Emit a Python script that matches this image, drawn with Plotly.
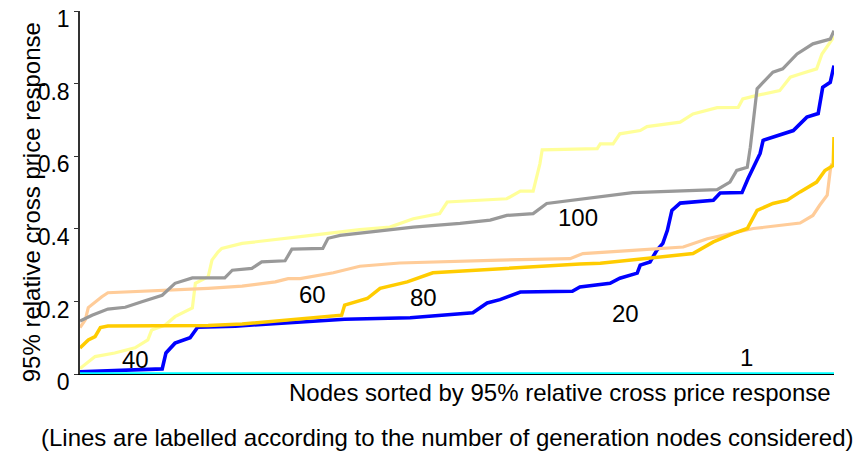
import plotly.graph_objects as go

# Node position (percent of sorted nodes) and 95% relative cross price response
x_1 = [0, 100]
y_1 = [0, 0]

x_20 = [0, 10.9, 11.4, 12.6, 14.6, 15.6, 20.6, 29.8, 35.1, 43.8, 52.1, 54.0, 55.7, 58.4, 65.3, 66.3,
        70.3, 71.6, 73.9, 74.3, 75.6, 76.5, 77.3, 77.9, 78.5, 79.6, 84.0, 84.9, 87.8, 88.6, 89.1,
        90.2, 90.6, 92.4, 94.6, 96.4, 97.9, 98.5, 99.5, 100]
y_20 = [0.006, 0.014, 0.058, 0.085, 0.10, 0.129, 0.132, 0.144, 0.151, 0.155, 0.169, 0.196, 0.205,
        0.226, 0.228, 0.24, 0.25, 0.264, 0.278, 0.30, 0.309, 0.341, 0.36, 0.396, 0.451, 0.471,
        0.479, 0.499, 0.50, 0.539, 0.561, 0.608, 0.644, 0.657, 0.671, 0.708, 0.718, 0.79, 0.804, 0.85]

x_40 = [0, 2.0, 4.6, 7.3, 9.0, 9.5, 11.3, 12.6, 14.9, 15.3, 17.0, 17.5, 18.3, 18.8, 21.5, 25.9,
        29.8, 37.1, 41.1, 44.2, 47.7, 48.7, 56.6, 58.4, 60.1, 61.0, 61.3, 68.6, 69.0, 70.7, 71.6,
        74.3, 75.2, 79.6, 81.3, 84.5, 87.3, 87.9, 89.8, 92.8, 94.2, 95.5, 97.7, 98.4, 100]
y_40 = [0.015, 0.048, 0.058, 0.072, 0.094, 0.121, 0.135, 0.158, 0.182, 0.25, 0.268, 0.314, 0.336,
        0.346, 0.36, 0.37, 0.38, 0.398, 0.405, 0.428, 0.442, 0.474, 0.483, 0.504, 0.504, 0.58,
        0.618, 0.621, 0.634, 0.634, 0.662, 0.671, 0.682, 0.694, 0.717, 0.734, 0.735, 0.758,
        0.768, 0.781, 0.818, 0.827, 0.841, 0.882, 0.93]

x_60 = [0, 0.7, 1.1, 2.0, 2.9, 3.7, 8.2, 12.6, 17.0, 21.5, 25.9, 27.6, 29.2, 33.6, 37.1, 42.4,
        51.3, 55.7, 65.0, 66.7, 73.3, 80.0, 83.2, 89.3, 95.5, 97.2, 98.1, 99.1, 99.5, 99.7]
y_60 = [0.128, 0.149, 0.183, 0.199, 0.213, 0.224, 0.228, 0.231, 0.236, 0.242, 0.254, 0.263, 0.263,
        0.279, 0.297, 0.306, 0.312, 0.314, 0.318, 0.332, 0.341, 0.35, 0.373, 0.401, 0.416, 0.437,
        0.465, 0.493, 0.561, 0.58]

x_80 = [0, 1.1, 2.0, 2.7, 3.7, 17.0, 21.5, 27.2, 29.8, 34.7, 35.1, 38.1, 39.8, 43.4, 46.8, 55.7,
        66.3, 69.0, 75.2, 81.3, 84.0, 86.6, 88.5, 89.8, 91.9, 93.8, 95.5, 97.7, 98.8, 99.9, 100]
y_80 = [0.072, 0.094, 0.103, 0.128, 0.132, 0.134, 0.138, 0.149, 0.153, 0.162, 0.19, 0.208, 0.236,
        0.254, 0.279, 0.291, 0.303, 0.305, 0.318, 0.332, 0.364, 0.387, 0.401, 0.451, 0.47, 0.479,
        0.502, 0.529, 0.561, 0.575, 0.653]

x_100 = [0, 1.6, 3.7, 6.0, 8.2, 10.9, 12.6, 14.9, 19.2, 20.2, 22.8, 24.1, 27.2, 28.1, 32.2, 32.9,
         34.5, 40.2, 44.2, 50.4, 54.4, 56.6, 60.1, 61.9, 73.3, 84.5, 86.2, 87.1, 88.5, 88.9, 89.3,
         89.8, 90.6, 91.9, 93.2, 95.1, 97.2, 99.5, 100]
y_100 = [0.146, 0.162, 0.179, 0.184, 0.199, 0.217, 0.25, 0.265, 0.265, 0.286, 0.291, 0.309, 0.312,
         0.344, 0.346, 0.374, 0.382, 0.396, 0.405, 0.415, 0.424, 0.437, 0.442, 0.47, 0.50, 0.508,
         0.529, 0.561, 0.57, 0.625, 0.699, 0.786, 0.804, 0.832, 0.841, 0.882, 0.91, 0.923, 0.946]

series_names = ["1", "20", "40", "60", "80", "100"]
series_x = [x_1, x_20, x_40, x_60, x_80, x_100]
series_y = [y_1, y_20, y_40, y_60, y_80, y_100]
colors = ["#00FFFF", "#0000FF", "#FFFF99", "#FFCC99", "#FFCC00", "#999999"]
widths = [3.5, 3.6, 3.2, 3.2, 3.5, 3.2]

# line label positions (data coords)
label_text = ["1", "20", "40", "60", "80", "100"]
label_x = [88.4, 72.4, 7.4, 30.8, 45.6, 66.0]
label_y = [0.045, 0.168, 0.041, 0.220, 0.212, 0.432]

y_ticks = [0, 0.2, 0.4, 0.6, 0.8, 1]
y_ticklabels = ["0", "0.2", "0.4", "0.6", "0.8", "1"]

FONT = "Liberation Sans, Arial, sans-serif"

fig = go.Figure()
draw_order = [1, 2, 3, 4, 5, 0]
for i in draw_order:
    fig.add_trace(go.Scatter(
        x=series_x[i], y=series_y[i], mode="lines", name=series_names[i],
        line=dict(color=colors[i], width=widths[i]), cliponaxis=False, showlegend=False,
        hoverinfo="skip"))

for t, lx, ly in zip(label_text, label_x, label_y):
    fig.add_annotation(x=lx, y=ly, text=t, showarrow=False, xref="x", yref="y",
                       xanchor="center", yanchor="middle",
                       font=dict(family=FONT, size=24, color="black"))

fig.add_annotation(text="95% relative cross price response", xref="paper", yref="paper",
                   x=-0.065, y=0.473, textangle=-90, showarrow=False,
                   xanchor="center", yanchor="middle",
                   font=dict(family=FONT, size=24, color="black"))
fig.add_annotation(text="Nodes sorted by 95% relative cross price response", xref="paper",
                   yref="paper", x=0.637, y=-0.052, showarrow=False,
                   xanchor="center", yanchor="middle",
                   font=dict(family=FONT, size=24, color="black"))
fig.add_annotation(text="(Lines are labelled according to the number of generation nodes considered)",
                   xref="paper", yref="paper", x=0.487, y=-0.176, showarrow=False,
                   xanchor="center", yanchor="middle",
                   font=dict(family=FONT, size=24, color="black"))

fig.update_layout(
    width=858, height=457,
    margin=dict(l=80, r=24, t=11, b=83, autoexpand=False),
    paper_bgcolor="white", plot_bgcolor="white",
    xaxis=dict(range=[0, 100], showgrid=False, zeroline=False, showticklabels=False,
               ticks="", showline=True, linecolor="black", linewidth=1, automargin=False),
    yaxis=dict(range=[0, 1.0005], showgrid=False, zeroline=False, tickvals=y_ticks,
               ticktext=y_ticklabels, ticks="outside", ticklen=4, tickcolor="#333333",
               showline=True, linecolor="#333333", linewidth=1.5,
               ticklabeloverflow="allow", automargin=False, ticklabelshift=8,
               tickfont=dict(family=FONT, size=23, color="black")),
)

fig.write_html("out.html", config={"displayModeBar": False},
               post_script="document.body.style.margin='0';document.body.style.overflow='hidden';")
